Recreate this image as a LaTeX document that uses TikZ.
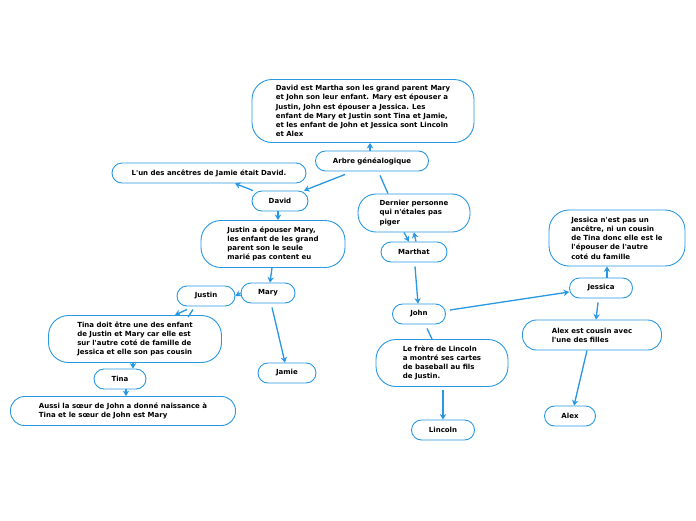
\documentclass[tikz,border=0pt]{standalone}
\usepackage{fontspec}
\setmainfont{DejaVu Sans}[Ligatures=TeXOff]
\usetikzlibrary{positioning,arrows.meta}
\definecolor{mapblue}{RGB}{40,152,226}

\begin{document}
\begin{tikzpicture}[x=1pt,y=-1pt,
  topic/.style={draw=mapblue, line width=0.9pt, rounded corners=10pt, fill=white,
    font=\fontsize{7}{9.2}\selectfont\bfseries, minimum height=20pt, inner sep=2pt, align=left},
  bigtopic/.style={topic, rounded corners=20pt},
  link/.style={draw=mapblue, line width=1.3pt, -{Stealth[length=5.5pt,width=6.5pt]}},
  plainlink/.style={draw=mapblue, line width=1.3pt}]
\useasboundingbox[fill=white] (0,0) rectangle (696,520);

\node[bigtopic, minimum width=222pt, minimum height=63pt] (note) at (363,111)
  {David est Martha son les grand parent Mary\\et John son leur enfant. Mary est épouser a\\Justin, John est épouser a Jessica. Les\\enfant de Mary et Justin sont Tina et Jamie,\\et les enfant de John et Jessica sont Lincoln\\et Alex};
\node[topic, minimum width=113pt] (arbre) at (372,161) {Arbre généalogique};
\node[topic, minimum width=194pt] (ancetre) at (209,173) {L'un des ancêtres de Jamie était David.};
\node[topic, minimum width=56pt] (david) at (280,201) {David};
\node[bigtopic, minimum width=144pt, minimum height=47pt] (epouse) at (273,244)
  {Justin a épouser Mary,\\les enfant de les grand\\parent son le seule\\marié pas content eu};
\node[topic, minimum width=54pt] (mary) at (268,293) {Mary};
\node[topic, minimum width=58pt] (justin) at (206,296) {Justin};
\node[bigtopic, minimum width=173pt, minimum height=47pt] (tinadoit) at (135,339)
  {Tina doit être une des enfant\\de Justin et Mary car elle est\\sur l'autre coté de famille de\\Jessica et elle son pas cousin};
\node[topic, minimum width=52pt] (tina) at (120,379) {Tina};
\node[bigtopic, rounded corners=14pt, minimum width=225pt, minimum height=29pt] (aussi) at (123,411)
  {Aussi la sœur de John a donné naissance à\\Tina et le sœur de John est Mary};
\node[topic, minimum width=58pt] (jamie) at (287,373) {Jamie};
\node[bigtopic, rounded corners=18pt, minimum width=112pt, minimum height=38pt] (dernier) at (414,213)
  {Dernier personne\\qui n'étales pas\\piger};
\node[topic, minimum width=66pt] (marthat) at (414,252) {Marthat};
\node[topic, minimum width=53pt] (john) at (419,314) {John};
\node[bigtopic, minimum width=132pt, minimum height=47pt] (frere) at (442,363)
  {Le frère de Lincoln\\a montré ses cartes\\de baseball au fils\\de Justin.};
\node[topic, minimum width=63pt] (lincoln) at (443,430) {Lincoln};
\node[bigtopic, minimum width=136pt, minimum height=56pt] (jesnote) at (617,238)
  {Jessica n'est pas un\\ancêtre, ni un cousin\\de Tina donc elle est le\\l'épouser de l'autre\\coté du famille};
\node[topic, minimum width=63pt] (jessica) at (601,288) {Jessica};
\node[bigtopic, rounded corners=14pt, minimum width=139pt, minimum height=30pt] (cousin) at (592,335)
  {Alex est cousin avec\\l'une des filles};
\node[topic, minimum width=51pt] (alex) at (570,416) {Alex};

\draw[link] ([xshift=-2pt]arbre.north) -- ([xshift=7pt]note.south);
\draw[link] ([xshift=-27pt,yshift=-3pt]arbre.south) -- ([xshift=24pt]david.north);
\draw[link] ([xshift=-27pt]david.north) -- ([xshift=26pt]ancetre.south);
\draw[link] ([xshift=-2pt]david.south) -- ([xshift=5pt]epouse.north);
\draw[link] ([xshift=-1pt]epouse.south) -- ([xshift=2pt]mary.north);
\draw[link] (mary.west) -- (justin.east);
\draw[link] ([xshift=-19pt,yshift=-3pt]justin.south) -- ([xshift=40pt]tinadoit.north);
\draw[plainlink] ([xshift=-13pt,yshift=-3pt]justin.south) -- ([xshift=53pt,yshift=-2pt]tinadoit.north);
\draw[link] ([xshift=4pt,yshift=-4pt]mary.south) -- ([xshift=-2pt]jamie.north);
\draw[link] ([xshift=-2pt]tinadoit.south) -- ([xshift=13pt]tina.north);
\draw[link] ([xshift=6pt]tina.south) -- ([xshift=3pt]aussi.north);
\draw[plainlink] ([xshift=8pt,yshift=-4pt]arbre.south) -- ([xshift=-26pt]dernier.north);
\draw[link] ([xshift=-10pt]dernier.south) -- ([xshift=-5pt]marthat.north);
\draw[link] ([xshift=2pt]marthat.north) -- (dernier.south);
\draw[link] ([xshift=1pt,yshift=-4pt]marthat.south) -- ([xshift=-1pt]john.north);
\draw[link] ([xshift=4pt,yshift=4pt]john.east) -- ([yshift=-4pt]jessica.west);
\draw[plainlink] ([xshift=8pt,yshift=-4pt]john.south) -- ([xshift=-10pt]frere.north);
\draw[link] ([xshift=1pt,yshift=-3pt]frere.south) -- ([xshift=0pt]lincoln.north);
\draw[link] ([xshift=6pt]jessica.north) -- ([xshift=-10pt]jesnote.south);
\draw[link] ([xshift=-3pt,yshift=-4pt]jessica.south) -- ([xshift=4pt]cousin.north);
\draw[link] ([xshift=-5pt]cousin.south) -- ([xshift=4pt]alex.north);
\end{tikzpicture}
\end{document}
